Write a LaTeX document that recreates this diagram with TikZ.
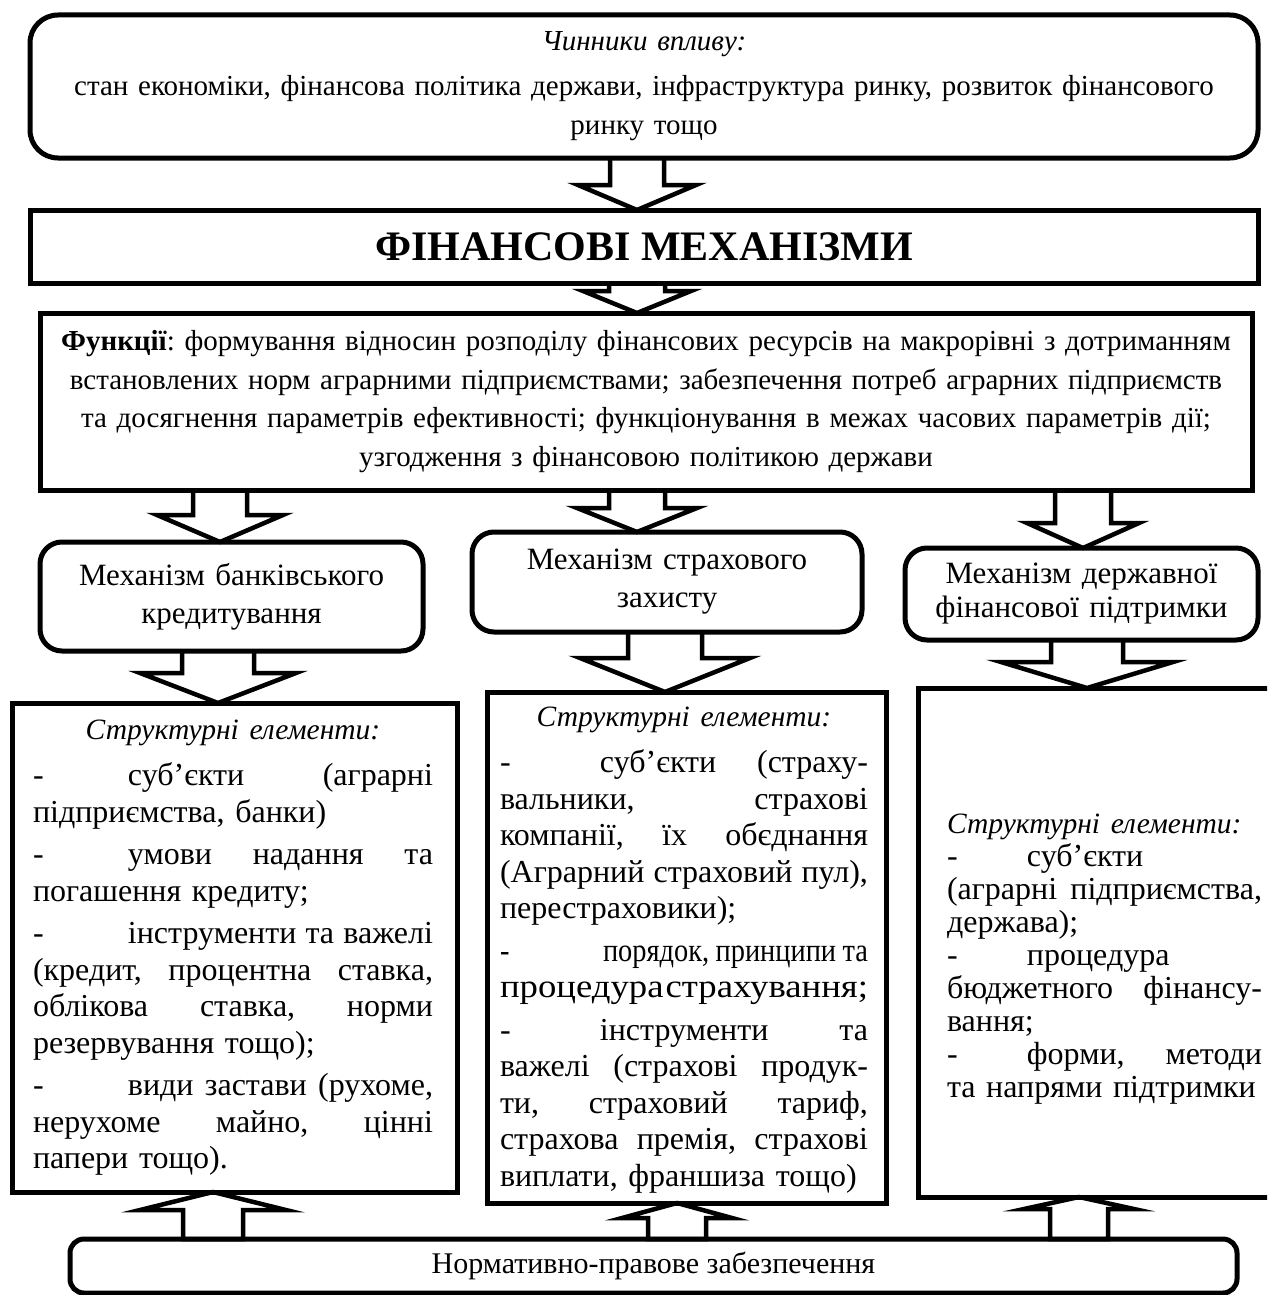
\documentclass[tikz,border=0pt]{standalone}
\usepackage{fontspec}
\setmainfont{Liberation Serif}
\newfontfamily\tightserif{Liberation Serif}[FakeStretch=0.86]
\usetikzlibrary{calc}

% column width for justified lines
\newlength\colw
% justified line across the column, and a dash followed by a tab stop
\newcommand\jl[1]{\leavevmode\hbox to \colw{\spaceskip=0.25em plus 1fil\relax #1}}
\newcommand\dtab[1][95pt]{\makebox[#1][l]{-}}
\newcommand\ctitle[1]{\makebox[\colw][c]{\fontsize{29.5}{36.5}\selectfont\itshape #1}}
% a line squeezed or widened to fill the column
\newcommand\fitline[1]{\leavevmode\resizebox{\colw}{\height}{#1}}

% block arrow pointing down from the bottom of #2 to the top of #3
% #1 x of the axis, #4 half shaft width, #5 half head width, #6 head length
\newcommand\downblock[6]{%
  \draw[blockarrow] let \p1=(#2.south), \p2=(#3.north) in
    ({#1pt-#4pt},\y1) -- ({#1pt-#4pt},\y2+#6pt) -- ({#1pt-#5pt},\y2+#6pt)
    -- (#1pt,\y2) -- ({#1pt+#5pt},\y2+#6pt) -- ({#1pt+#4pt},\y2+#6pt)
    -- ({#1pt+#4pt},\y1);}
% block arrow pointing up from the top of #2 to the bottom of #3
\newcommand\upblock[6]{%
  \draw[blockarrow] let \p1=(#2.north), \p2=(#3.south) in
    ({#1pt-#4pt},\y1) -- ({#1pt-#4pt},\y2-#6pt) -- ({#1pt-#5pt},\y2-#6pt)
    -- (#1pt,\y2) -- ({#1pt+#5pt},\y2-#6pt) -- ({#1pt+#4pt},\y2-#6pt)
    -- ({#1pt+#4pt},\y1) -- cycle;}

\tikzset{
  box/.style={draw, line width=5pt, outer sep=0pt, inner sep=0pt, align=center},
  rbox/.style={box, rounded corners=#1},
  rbox/.default=26pt,
  blockarrow/.style={draw, line width=4.5pt, line join=miter, miter limit=10},
  coltext/.style={inner sep=0pt, align=left, font=\fontsize{32}{36.5}\selectfont},
}

\begin{document}
\begin{tikzpicture}[x=1pt, y=-1pt]
\clip (0,0) rectangle (1267,1295);
\fill[white] (0,0) rectangle (1267,1295);
\frenchspacing

% influencing factors
\node[rbox=28pt, minimum width=1228pt, minimum height=143pt, text width=1200pt,
  font=\fontsize{29}{39}\selectfont] (factors) at (644,86.5)
  {\textit{Чинники впливу:}\\[6pt]
   стан економіки, фінансова політика держави, інфраструктура ринку, розвиток фінансового\\
   ринку тощо};

% title bar
\node[box, minimum width=1228pt, minimum height=73pt,
  font=\fontsize{42}{48}\selectfont\bfseries] (mech) at (644,246.5)
  {ФІНАНСОВІ МЕХАНІЗМИ};

% functions
\node[box, minimum width=1212pt, minimum height=177pt, text width=1190pt,
  font=\fontsize{29}{38.5}\selectfont] (func) at (646,401.5)
  {\textbf{Функції}: формування відносин розподілу фінансових ресурсів на макрорівні з дотриманням\\
   встановлених норм аграрними підприємствами; забезпечення потреб аграрних підприємств\\
   та досягнення параметрів ефективності; функціонування в межах часових параметрів дії;\\
   узгодження з фінансовою політикою держави};

% three mechanisms
\node[rbox=22pt, minimum width=383pt, minimum height=109pt, text width=370pt,
  font=\fontsize{31}{38}\selectfont] (bank) at (231.5,596.5)
  {Механізм банківського\\ кредитування};
\node[rbox=22pt, minimum width=390pt, minimum height=100pt, text width=370pt,
  font=\fontsize{31}{38}\selectfont] (ins) at (667,582)
  {Механізм страхового\\ захисту};
\node[rbox=22pt, minimum width=353pt, minimum height=92pt, text width=340pt,
  font=\fontsize{31}{34}\selectfont] (gov) at (1081.5,594)
  {Механізм державної\\ фінансової підтримки};

% frames of the structural elements
\node[box, minimum width=445pt, minimum height=489pt] (bankcol) at (234.5,947.5) {};
\node[box, minimum width=399pt, minimum height=511pt] (inscol) at (686.5,947.5) {};
\node[box, minimum width=373pt, minimum height=509pt] (govcol) at (1104.5,942.5) {};

% legal basis
\node[rbox=14pt, minimum width=1167pt, minimum height=54pt,
  font=\fontsize{30}{36}\selectfont] (law) at (653.5,1266)
  {Нормативно-правове забезпечення};

% structural elements: bank crediting
\setlength\colw{400pt}
\node[coltext, text width=400pt] (banktext) at (233,947.5) {%
\ctitle{Структурні елементи:}\\[10pt]
\jl{\dtab суб’єкти (аграрні}\\
підприємства, банки)\\[6pt]
\jl{\dtab умови надання та}\\
погашення кредиту;\\[6pt]
\jl{\dtab інструменти та важелі}\\
\jl{(кредит, процентна ставка,}\\
\jl{облікова ставка, норми}\\
резервування тощо);\\[6pt]
\jl{\dtab види застави (рухоме,}\\
\jl{нерухоме майно, цінні}\\
папери тощо).};

% structural elements: insurance protection
\setlength\colw{368pt}
\node[coltext, text width=368pt] (instext) at (684,950) {%
\ctitle{Структурні елементи:}\\[10pt]
\jl{\dtab[100pt]суб’єкти (страху-}\\
\jl{вальники, страхові}\\
\jl{компанії, їх обєднання}\\
\jl{(Аграрний страховий пул),}\\
перестраховики);\\[6pt]
\jl{\tightserif\fontsize{33}{36.5}\selectfont\spaceskip=0.15em plus 1fil\relax
  \dtab[103pt]порядок, принципи та}\\
\fitline{\tightserif\fontsize{33}{36.5}\selectfont\spaceskip=0.05em\relax процедура страхування;}\\[6pt]
\jl{\dtab[100pt]інструменти та}\\
\jl{важелі (страхові продук-}\\
\jl{ти, страховий тариф,}\\
\jl{страхова премія, страхові}\\
виплати, франшиза тощо)};

% structural elements: state financial support
\setlength\colw{315pt}
\node[coltext, text width=315pt, font=\fontsize{32}{33}\selectfont] (govtext) at (1104.5,959) {%
{\fontsize{29.5}{33}\selectfont\itshape Структурні елементи:}\\
\dtab[80pt]суб’єкти\\
\jl{(аграрні підприємства,}\\
держава);\\
\dtab[80pt]процедура\\
\jl{бюджетного фінансу-}\\
вання;\\
\jl{\dtab[80pt]форми, методи}\\
та напрями підтримки};

% block arrows
\downblock{637}{factors}{mech}{27}{59}{25}
\downblock{637}{mech}{func}{28}{54}{22}
\downblock{220}{func}{bank}{27}{63}{27}
\downblock{637}{func}{ins}{28}{60}{24}
\downblock{1083}{func}{gov}{28}{56}{25}
\downblock{218}{bank}{bankcol}{36}{78}{30}
\downblock{665}{ins}{inscol}{37}{85}{34}
\downblock{1087}{gov}{govcol}{36}{86}{26}
\upblock{213}{law}{bankcol}{30}{73}{18}
\upblock{677}{law}{inscol}{29}{55}{15}
\upblock{1079}{law}{govcol}{29}{55}{12}
\end{tikzpicture}
\end{document}
